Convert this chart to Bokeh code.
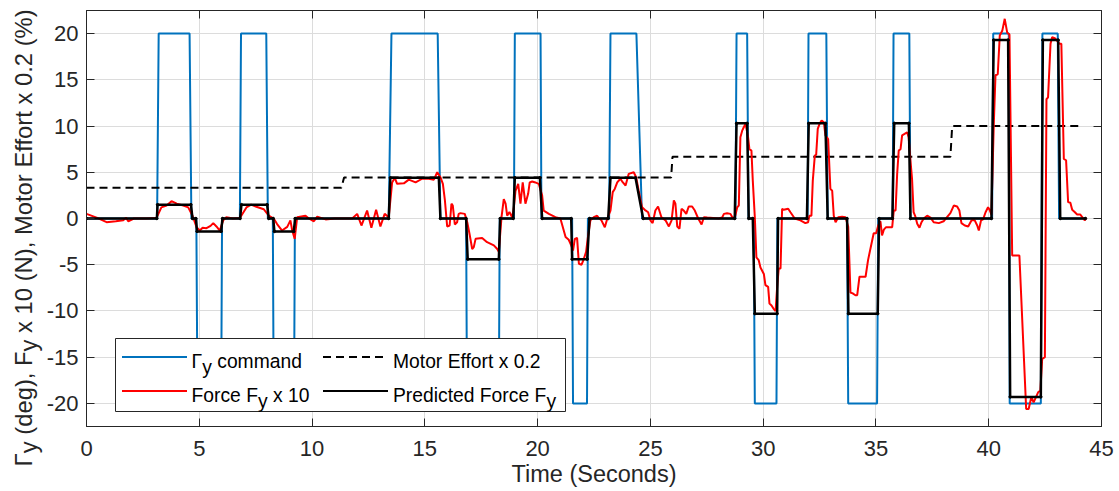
import math
from bokeh.plotting import figure
from bokeh.layouts import row
from bokeh.models import (LinearAxis, Range1d, FixedTicker, Label, BoxAnnotation, Arrow)
from bokeh.embed import file_html
from bokeh.resources import INLINE

# ---------------- data ----------------
x_ticks = [0, 5, 10, 15, 20, 25, 30, 35, 40, 45]
x_tick_labels = ["0", "5", "10", "15", "20", "25", "30", "35", "40", "45"]
y_ticks = [-20, -15, -10, -5, 0, 5, 10, 15, 20]
y_tick_labels = ["-20", "-15", "-10", "-5", "0", "5", "10", "15", "20"]

# Gamma_y command (deg)
t_cmd = [0, 3.13, 3.2, 4.57, 4.65, 4.87, 4.92, 5.97, 6.01, 6.8, 6.85, 7.97, 8.04, 8.26, 8.3,
         9.2, 9.24, 13.4, 13.52, 15.57, 15.69, 16.83, 16.87, 18.28, 18.32, 18.95, 18.99, 20.13,
         20.17, 21.53, 21.57, 22.19, 22.23, 23.17, 23.23, 24.38, 24.63, 28.77, 28.82, 29.29,
         29.35, 29.58, 29.63, 30.59, 30.63, 31.97, 32.01, 32.8, 32.86, 33.72, 33.77, 35.05,
         35.1, 35.74, 35.78, 36.48, 36.53, 40.15, 40.2, 40.89, 40.93, 42.31, 42.38, 43.06,
         43.12, 44.3]
y_cmd = [0, 0, 20, 20, 0, 0, -20, -20, 0, 0, 20, 20, 0, 0, -20,
         -20, 0, 0, 20, 20, 0, 0, -20, -20, 0, 0, 20, 20,
         0, 0, -20, -20, 0, 0, 20, 20, 0, 0, 20, 20,
         0, 0, -20, -20, 0, 0, 20, 20, 0, 0, -20, -20,
         0, 0, 20, 20, 0, 0, 20, 20, -20, -20, 20, 20,
         0, 0]

# Motor effort x 0.2 (%)
t_motor = [0, 11.3, 11.42, 25.92, 25.98, 38.3, 38.38, 44.0]
y_motor = [3.33, 3.33, 4.44, 4.44, 6.67, 6.67, 10.0, 10.0]

# Measured force F_y x 10
t_force = [0.0, 0.45, 0.89, 1.3, 1.63, 1.75, 1.85, 2.1, 2.66, 3.1, 3.32, 3.55, 3.77, 4.0, 4.29,
           4.51, 4.7, 4.88, 5.02, 5.15, 5.32, 5.5, 5.62, 5.76, 5.91, 6.06, 6.2, 6.5, 6.8, 7.09,
           7.3, 7.5, 7.86, 8.08, 8.3, 8.45, 8.67, 8.9, 9.04, 9.12, 9.23, 9.34, 9.71, 9.86, 10.08,
           10.23, 10.6, 11.0, 11.78, 12.0, 12.19, 12.44, 12.63, 12.84, 13.03, 13.22, 13.4, 13.55,
           13.67, 13.77, 14.07, 14.29, 14.59, 14.88, 15.18, 15.4, 15.55, 15.69, 15.8, 15.89,
           15.99, 16.1, 16.18, 16.24, 16.33, 16.43, 16.5, 16.58, 16.77, 16.88, 16.98, 17.1,
           17.17, 17.25, 17.54, 17.76, 18.06, 18.21, 18.28, 18.4, 18.5, 18.58, 18.65, 18.75,
           18.87, 18.94, 19.02, 19.14, 19.24, 19.34, 19.46, 19.58, 19.65, 19.76, 19.9, 20.05,
           20.2, 20.27, 20.5, 20.79, 21.01, 21.24, 21.38, 21.49, 21.57, 21.65, 21.75, 21.83,
           21.95, 22.05, 22.15, 22.22, 22.34, 22.49, 22.64, 22.71, 22.83, 22.98, 23.09, 23.23,
           23.33, 23.42, 23.53, 23.67, 23.78, 23.9, 24.04, 24.26, 24.37, 24.48, 24.63, 24.75,
           24.9, 25.0, 25.1, 25.22, 25.34, 25.49, 25.67, 25.82, 25.94, 26.04, 26.11, 26.19,
           26.29, 26.38, 26.48, 26.59, 26.7, 26.85, 26.97, 27.12, 27.27, 27.37, 27.52, 28.03,
           28.18, 28.26, 28.4, 28.55, 28.63, 28.74, 28.85, 28.92, 28.99, 29.07, 29.14, 29.22,
           29.33, 29.39, 29.48, 29.54, 29.63, 29.7, 29.8, 29.88, 30.03, 30.1, 30.22, 30.28,
           30.37, 30.47, 30.55, 30.62, 30.69, 30.77, 30.84, 30.91, 31.11, 31.21, 31.4, 31.65,
           31.87, 31.99, 32.05, 32.14, 32.2, 32.29, 32.35, 32.42, 32.5, 32.59, 32.69, 32.76,
           32.88, 32.98, 33.06, 33.13, 33.21, 33.33, 33.5, 33.65, 33.77, 33.87, 33.97, 34.09,
           34.17, 34.27, 34.54, 34.65, 34.83, 34.9, 35.01, 35.1, 35.2, 35.27, 35.35, 35.45,
           35.72, 35.79, 35.87, 35.94, 36.01, 36.09, 36.16, 36.27, 36.38, 36.45, 36.53, 36.6,
           36.67, 36.75, 36.83, 36.93, 37.02, 37.12, 37.27, 37.42, 37.56, 37.79, 38.0, 38.15,
           38.3, 38.45, 38.6, 38.7, 38.79, 38.94, 39.09, 39.24, 39.38, 39.49, 39.56, 39.66,
           39.75, 39.86, 39.97, 40.04, 40.12, 40.22, 40.3, 40.4, 40.49, 40.6, 40.71, 40.82,
           40.92, 41.04, 41.36, 41.66, 41.77, 41.89, 41.99, 42.1, 42.19, 42.29, 42.37, 42.49,
           42.56, 42.63, 42.74, 42.81, 42.93, 43.04, 43.14, 43.22, 43.33, 43.43, 43.52, 43.62,
           43.7, 43.81, 43.92, 44.06, 44.17, 44.26, 44.32]
y_force = [0.5, 0.1, -0.4, -0.3, -0.2, 0.1, -0.3, 0.0, 0.0, 0.05, 1.2, 1.4, 1.87, 1.6, 1.4,
           1.2, 0.3, -0.94, -1.3, -1.0, -1.05, -0.8, -0.5, -0.86, -1.3, -0.2, 0.14, 0.0, 0.05, 1.2,
           1.5, 1.3, 1.0, 0.3, 0.0, -0.6, -1.3, -0.9, -0.2, -1.3, -2.2, 0.14, 0.3, 0.0, -0.3,
           0.2, -0.1, 0.0, 0.0, 0.5, -0.76, 0.86, -1.0, 0.94, -0.86, 0.5, 0.14, 3.9,
           4.4, 3.75, 3.8, 4.2, 3.9, 4.3, 4.3, 4.2, 5.0, 4.47, 3.75, 1.95,
           -0.86, -0.76, 1.6, 1.4, -0.65, -0.4, 0.5, 0.58, 0.5, -0.4, -1.65, -3.3,
           -3.1, -2.2, -2.1, -2.56, -2.9, -3.3, -3.6, 0.14, 2.1, 1.6, 0.3, 0.7,
           0.14, 1.05, 3.0, 3.75, 1.6, 3.9, 1.6, 2.67, 3.9, 4.0, 3.9, 3.75,
           2.5, 0.86, 0.5, 0.14, 0.0, -2.0, -2.3, -2.9, -3.46, -2.2, -2.1, -4.9,
           -5.0, -4.36, -3.6, -2.2, -0.2, 0.14, 0.3, 0.05, -0.2, -0.94, 0.0, 0.86,
           2.85, 3.2, 3.9, 4.3, 3.9, 3.57, 4.83, 5.0, 4.47, 3.0, 1.22, 0.94,
           0.68, -0.2, -0.5, 0.86, 1.3, 0.14, -0.2, -0.86, -0.2, 1.95, 1.6, -0.86,
           -1.1, 1.05, 0.86, 0.5, 1.3, 1.3, 0.86, 0.0, -0.65, 0.14, 0.1, 0.0,
           0.1, 0.5, 0.56, 0.5, 0.14, 0.05, 1.22, 1.4, 8.8, 9.5, 9.87, 10.24,
           8.8, 7.5, 7.35, 4.1, 0.14, -4.2, -4.5, -5.3, -6.0, -7.2, -7.4, -9.2,
           -9.4, -9.8, -10.0, -7.4, -5.4, -5.4, 1.05, 0.94, 1.05, 0.68, 0.0, -0.2,
           -0.5, -0.4, 0.3, 0.3, 4.1, 6.8, 6.9, 9.7, 10.24, 10.6, 10.4, 9.0,
           8.6, 3.2, 3.0, 0.3, -0.4, 0.14, 0.2, 0.14, -0.9, -8.0, -8.1, -8.3,
           -8.3, -6.3, -6.3, -4.5, -2.4, -1.6, -1.6, -0.76, -0.3, -1.84, -1.2, -0.94,
           -0.94, 0.86, 0.86, 4.8, 7.35, 7.5, 9.0, 9.16, 9.33, 8.8, 6.27, 4.3,
           0.68, 0.2, -0.57, -1.0, -0.4, 0.0, 0.3, 0.1, -0.4, -0.5, -0.3, 0.14,
           0.58, 1.4, 1.3, 0.86, -0.5, -0.76, -0.86, -0.2, -0.2, -0.76, -1.3, -0.2,
           -0.1, 0.68, 1.22, 0.94, 0.43, 9.87, 15.5, 15.6, 19.8, 20.3, 21.6, 20.1,
           19.9, -4.0, -4.0, -20.6, -20.6, -19.3, -19.9, -19.3, -18.8, -18.6, -15.2, -15.0,
           12.9, 13.1, 18.9, 19.6, 19.5, 19.2, 18.9, 18.9, 6.45, 6.3, 1.77, 1.7,
           0.94, 0.7, 0.43, 0.43, 0.07, -0.2, 0.1]

# Predicted force F_y
t_pred = [0, 3.12, 3.15, 4.63, 4.7, 4.85, 4.9, 5.97, 6.03, 6.81, 6.87, 8.01, 8.08, 8.28, 8.33,
          9.19, 9.25, 13.4, 13.47, 15.62, 15.69, 16.83, 16.9, 18.28, 18.34, 18.92, 18.99, 20.1,
          20.2, 21.49, 21.53, 22.2, 22.3, 23.13, 23.23, 24.34, 24.68, 28.74, 28.82, 29.29,
          29.36, 29.54, 29.63, 30.62, 30.66, 31.94, 32.02, 32.76, 32.86, 33.72, 33.78, 35.08,
          35.14, 35.73, 35.81, 36.46, 36.53, 40.12, 40.22, 40.86, 40.95, 42.31, 42.4, 43.08,
          43.17, 44.29]
y_pred = [0, 0, 1.5, 1.5, 0, 0, -1.4, -1.4, 0, 0, 1.5, 1.5, 0, 0, -1.4,
          -1.4, 0, 0, 4.4, 4.4, 0, 0, -4.4, -4.4, 0, 0, 4.4, 4.4,
          0, 0, -4.4, -4.4, 0, 0, 4.4, 4.4, 0, 0, 10.3, 10.3,
          0, 0, -10.3, -10.3, 0, 0, 10.3, 10.3, 0, 0, -10.3, -10.3,
          0, 0, 10.3, 10.3, 0, 0, 19.3, 19.3, -19.3, -19.3, 19.3, 19.3,
          0, 0]

legend_labels = [["\u0393", "y", " command"], ["Force F", "y", " x 10"],
                 ["Motor Effort x 0.2"], ["Predicted Force F", "y"]]
y_label_parts = ["\u0393", "y", " (deg), F", "y", " x 10 (N), Motor Effort x 0.2 (%)"]
x_label = "Time (Seconds)"

# ---------------- styling ----------------
FONT = "Liberation Sans"
AX = "#262626"
BLUE = "#0072BD"
RED = "#FF0000"

# Arial/Liberation Sans advance widths (em)
AW = {" ": .278, "%": .889, "(": .333, ")": .333, ",": .278, ".": .278, "0": .556, "1": .556,
      "2": .556, "E": .667, "F": .611, "M": .833, "N": .722, "P": .667, "a": .556, "c": .5,
      "d": .556, "e": .556, "f": .278, "g": .556, "i": .222, "m": .833, "n": .556, "o": .556,
      "r": .333, "t": .278, "x": .5, "y": .5, "\u0393": .556}


def tw(s, size):
    return sum(AW.get(c, .556) for c in s) * size


LEFT_W = 43
p = figure(frame_width=1015, frame_height=416, x_range=Range1d(0, 45), y_range=Range1d(-22.5, 22.5),
           output_backend="svg", toolbar_location=None,
           min_border_left=86 - LEFT_W, min_border_right=18, min_border_top=10, min_border_bottom=65)
p.outline_line_color = AX
p.background_fill_color = "white"
p.border_fill_color = "white"

xt = FixedTicker(ticks=x_ticks)
yt = FixedTicker(ticks=y_ticks)
p.xaxis.ticker = xt
p.yaxis.ticker = yt
p.xgrid.ticker = xt
p.ygrid.ticker = yt
for g in (p.xgrid, p.ygrid):
    g.grid_line_color = "#dcdcdc"
    g.grid_line_width = 1

xa = p.xaxis[0]
xa.major_label_overrides = {v: s for v, s in zip(x_ticks, x_tick_labels)}
xa.axis_label = x_label
ya = p.yaxis[0]
ya.major_label_overrides = {v: s for v, s in zip(y_ticks, y_tick_labels)}

for ax in (xa, ya):
    ax.axis_line_color = AX
    ax.major_tick_line_color = AX
    ax.major_tick_in = 8
    ax.major_tick_out = 0
    ax.minor_tick_line_color = None
    ax.major_label_text_font = FONT
    ax.major_label_text_font_size = "22px"
    ax.major_label_text_color = AX
    ax.axis_label_text_font = FONT
    ax.axis_label_text_font_size = "23.5px"
    ax.axis_label_text_font_style = "normal"
    ax.axis_label_text_color = AX
xa.major_label_standoff = 14
xa.axis_label_standoff = 2
ya.major_label_standoff = 8

# box-style ticks on top and right (drawn as unlabeled minor ticks)
top = LinearAxis(ticker=FixedTicker(ticks=[], minor_ticks=x_ticks),
                 minor_tick_in=8, minor_tick_out=0, minor_tick_line_color=AX,
                 major_tick_line_color=None, axis_line_color=AX, major_label_standoff=0)
right = LinearAxis(ticker=FixedTicker(ticks=[], minor_ticks=y_ticks),
                   minor_tick_in=8, minor_tick_out=0, minor_tick_line_color=AX,
                   major_tick_line_color=None, axis_line_color=AX, major_label_standoff=0)
p.add_layout(top, "above")
p.add_layout(right, "right")

# ---------------- series ----------------
p.line(t_cmd, y_cmd, line_color=BLUE, line_width=2)
p.line(t_motor, y_motor, line_color="black", line_width=2, line_dash="8 5")
p.line(t_force, y_force, line_color=RED, line_width=2)
p.line(t_pred, y_pred, line_color="black", line_width=2.5)
p.scatter(t_pred, y_pred, size=2.5, color="black")

# ---------------- legend (screen units, frame-relative) ----------------
LFS = 19.3
SUB = 6.0
box = BoxAnnotation(left=29, right=479, top=88, bottom=15, left_units="screen", right_units="screen",
                    top_units="screen", bottom_units="screen", fill_color="white", fill_alpha=1.0,
                    line_color=AX, line_width=1, line_alpha=1.0)
p.add_layout(box)

rows_y = [69.5, 35.5]
col_x = [35.5, 236.5]
samples = [(0, 0, BLUE, None), (0, 1, RED, None), (1, 0, "black", "8 5"), (1, 1, "black", None)]
for c, r, col, dash in samples:
    kw = dict(x_start=col_x[c], y_start=rows_y[r], x_end=col_x[c] + 65, y_end=rows_y[r],
              start_units="screen", end_units="screen", start=None, end=None,
              line_color=col, line_width=2)
    if dash:
        kw["line_dash"] = dash
    p.add_layout(Arrow(**kw))


def place_parts(fig, parts, x0, y0, size, color, sub_shift, angle=0.0, sub_idx=()):
    """Place text pieces along a line; leading spaces become offsets (SVG collapses them)."""
    pos = 0.0
    for i, s in enumerate(parts):
        stripped = s.lstrip(" ")
        pos += tw(s[:len(s) - len(stripped)], size)
        shift = sub_shift if i in sub_idx else 0.0
        if angle == 0.0:
            x, y = x0 + pos, y0 - shift
        else:
            x, y = x0 + shift, y0 + pos
        fig.add_layout(Label(x=x, y=y, x_units="screen", y_units="screen", text=stripped,
                             text_font=FONT, text_font_size=f"{size}px", text_color=color,
                             angle=angle, text_align="left", text_baseline="alphabetic"))
        pos += tw(stripped, size)


text_x = [105.0, 306.5]
base_y = [65.0, 31.0]
order = [(0, 0), (0, 1), (1, 0), (1, 1)]
for (c, r), parts in zip(order, legend_labels):
    subs = tuple(i for i, s in enumerate(parts) if s == "y" and len(parts) > 1)
    place_parts(p, parts, text_x[c], base_y[r], LFS, "black", SUB, sub_idx=subs)

# ---------------- rotated y-axis label in a narrow side figure ----------------
lab = figure(frame_width=LEFT_W, frame_height=491, output_backend="svg", toolbar_location=None,
             x_axis_location=None, y_axis_location=None, min_border=0,
             min_border_left=0, min_border_right=0, min_border_top=0, min_border_bottom=0)
lab.outline_line_color = None
lab.grid.visible = False
lab.background_fill_color = "white"
lab.border_fill_color = "white"
YFS = 23.8
place_parts(lab, y_label_parts, 23.0, 491 - 456.0, YFS, AX, 5.0, angle=math.pi / 2, sub_idx=(1, 3))

layout = row(lab, p, spacing=0)
open("out.html", "w").write(file_html(layout, INLINE))
